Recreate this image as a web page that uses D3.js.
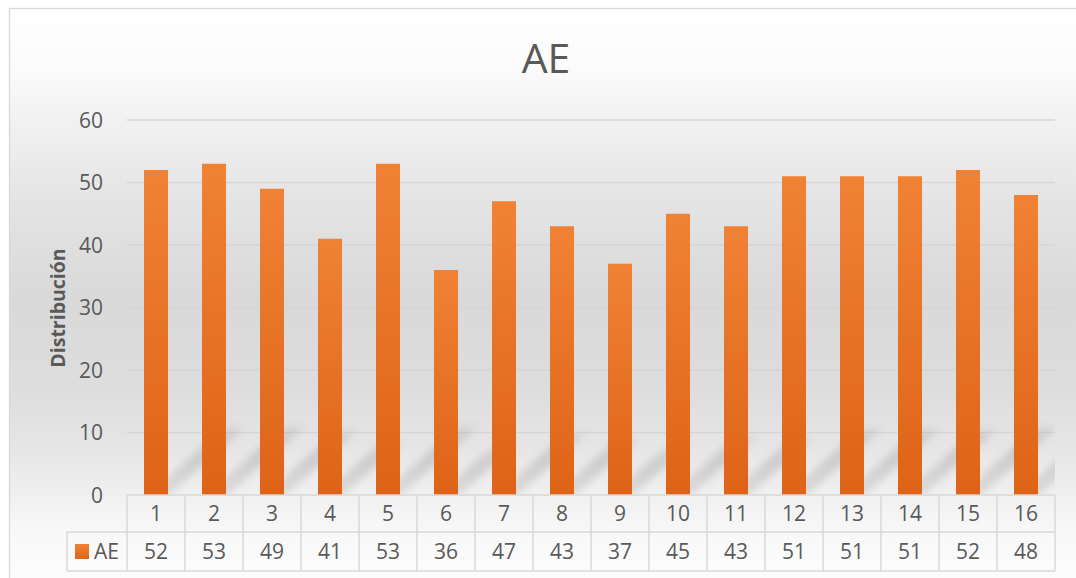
<!DOCTYPE html>
<html>
<head>
<meta charset="utf-8">
<script src="https://cdn.jsdelivr.net/npm/d3@7"></script>
<style>
  html, body { margin: 0; padding: 0; background: #ffffff; }
  svg { display: block; }
  text { font-family: "Open Sans", "Noto Sans", sans-serif; fill: #595959; }
</style>
</head>
<body>
<svg id="chart" width="1076" height="578"></svg>
<script>
// ---- data ----
const chartTitle = "AE";
const yAxisTitle = "Distribución";
const seriesName = "AE";
const categories = ["1","2","3","4","5","6","7","8","9","10","11","12","13","14","15","16"];
const values = [52, 53, 49, 41, 53, 36, 47, 43, 37, 45, 43, 51, 51, 51, 52, 48];
const yTicks = [0, 10, 20, 30, 40, 50, 60];

// ---- layout ----
const plot = { left: 127, right: 1055, top: 120, bottom: 495 };
const chartBox = { x: 9.5, y: 8.5, w: 1074, h: 580 };
const row1 = { top: 495, bottom: 532 };
const row2 = { top: 532, bottom: 571 };
const headerLeft = 67;

const svg = d3.select("#chart");
const defs = svg.append("defs");

// background gradient
const bg = defs.append("linearGradient").attr("id", "bgGrad")
  .attr("x1", 0).attr("y1", 0).attr("x2", 0).attr("y2", 1);
[[0, "#ffffff"], [0.1, "#fbfbfb"], [0.2, "#f1f1f1"], [0.32, "#e5e5e5"], [0.5, "#d9d9d9"],
 [0.65, "#dddddd"], [0.75, "#e5e5e5"], [0.84, "#f0f0f0"], [0.9, "#f8f8f8"], [1, "#fdfdfd"]]
  .forEach(([o, c]) => bg.append("stop").attr("offset", o).attr("stop-color", c));

// bar gradient
const bar = defs.append("linearGradient").attr("id", "barGrad")
  .attr("x1", 0).attr("y1", 0).attr("x2", 0).attr("y2", 1);
bar.append("stop").attr("offset", 0).attr("stop-color", "#f08236");
bar.append("stop").attr("offset", 1).attr("stop-color", "#de6316");

// legend key gradient
const key = defs.append("linearGradient").attr("id", "keyGrad")
  .attr("x1", 0).attr("y1", 0).attr("x2", 0).attr("y2", 1);
key.append("stop").attr("offset", 0).attr("stop-color", "#f08236");
key.append("stop").attr("offset", 1).attr("stop-color", "#df6517");

// shadow gradient (fades toward the tip)
const sg = defs.append("linearGradient").attr("id", "shadowGrad")
  .attr("x1", 0).attr("y1", 1).attr("x2", 0).attr("y2", 0);
sg.append("stop").attr("offset", 0).attr("stop-color", "#000").attr("stop-opacity", 0.08);
sg.append("stop").attr("offset", 0.55).attr("stop-color", "#000").attr("stop-opacity", 0.12);
sg.append("stop").attr("offset", 0.85).attr("stop-color", "#000").attr("stop-opacity", 0.09);
sg.append("stop").attr("offset", 1).attr("stop-color", "#000").attr("stop-opacity", 0);

defs.append("filter").attr("id", "blur").attr("x", "-30%").attr("y", "-30%")
  .attr("width", "160%").attr("height", "160%")
  .append("feGaussianBlur").attr("stdDeviation", 3.5);

defs.append("clipPath").attr("id", "plotClip").append("rect")
  .attr("x", plot.left).attr("y", plot.top - 5)
  .attr("width", plot.right - plot.left).attr("height", plot.bottom - plot.top + 5);

// chart area
svg.append("rect").attr("x", chartBox.x).attr("y", chartBox.y)
  .attr("width", chartBox.w).attr("height", chartBox.h)
  .attr("fill", "url(#bgGrad)").attr("stroke", "#d9d9d9").attr("stroke-width", 1.3);

// scales
const x = d3.scaleBand().domain(categories)
  .range([plot.left, plot.right]).paddingInner(0.586).paddingOuter(0.293);
const y = d3.scaleLinear().domain([0, 60]).range([plot.bottom, plot.top]);
const step = x.step();
const cellLeft = c => x(c) - (step - x.bandwidth()) / 2;

// gridlines
svg.append("g").selectAll("line").data(yTicks.filter(t => t > 0)).join("line")
  .attr("x1", plot.left).attr("x2", plot.right)
  .attr("y1", d => y(d)).attr("y2", d => y(d))
  .attr("stroke", "#d5d5d5").attr("stroke-width", 1.3);

// shadows
const data = categories.map((c, i) => ({ c, v: values[i] }));
svg.append("g").attr("clip-path", "url(#plotClip)")
  .selectAll("path").data(data).join("path")
  .attr("d", d => {
    const x0 = x(d.c), x1 = x0 + x.bandwidth(), b = y(0);
    const sh = (y(0) - y(d.v)) * 0.22;
    const dx = sh * 1.15;
    return `M${x0 + 4},${b} L${x1 + 2},${b} L${x1 + dx},${b - sh} L${x0 + dx + 2},${b - sh} Z`;
  })
  .attr("fill", "url(#shadowGrad)")
  .attr("filter", "url(#blur)");

// bars
svg.append("g").selectAll("rect").data(data).join("rect")
  .attr("x", d => x(d.c)).attr("width", x.bandwidth())
  .attr("y", d => y(d.v)).attr("height", d => y(0) - y(d.v))
  .attr("fill", "url(#barGrad)");

// y axis labels
const yAxis = svg.append("g").attr("transform", `translate(${plot.left},0)`)
  .call(d3.axisLeft(y).tickValues(yTicks).tickSize(0).tickPadding(24));
yAxis.select(".domain").remove();
yAxis.selectAll("text").attr("font-size", 21).attr("fill", "#595959")
  .attr("font-family", "\"Open Sans\", sans-serif").attr("dy", "0.35em");

// y axis title
svg.append("text")
  .attr("transform", `translate(65,${(plot.top + plot.bottom) / 2 + 0.5}) rotate(-90)`)
  .attr("text-anchor", "middle")
  .attr("font-size", 19.5).attr("font-weight", "bold")
  .text(yAxisTitle);

// title
svg.append("text").attr("x", 546).attr("y", 73)
  .attr("text-anchor", "middle").attr("font-size", 41).text(chartTitle);

// data table
const grid = svg.append("g").attr("stroke", "#d9d9d9").attr("stroke-width", 1.5).attr("fill", "none");
grid.append("line").attr("x1", plot.left).attr("x2", plot.right).attr("y1", row1.top).attr("y2", row1.top);
grid.append("line").attr("x1", headerLeft).attr("x2", plot.right).attr("y1", row2.top).attr("y2", row2.top);
grid.append("line").attr("x1", headerLeft).attr("x2", plot.right).attr("y1", row2.bottom).attr("y2", row2.bottom);
grid.append("line").attr("x1", headerLeft).attr("x2", headerLeft).attr("y1", row2.top).attr("y2", row2.bottom);
grid.selectAll(".v").data(categories).join("line").attr("class", "v")
  .attr("x1", d => cellLeft(d)).attr("x2", d => cellLeft(d))
  .attr("y1", row1.top).attr("y2", row2.bottom);
grid.append("line").attr("x1", plot.right).attr("x2", plot.right).attr("y1", row1.top).attr("y2", row2.bottom);

// row 1: categories
svg.append("g").selectAll("text").data(categories).join("text")
  .attr("x", d => x(d) + x.bandwidth() / 2)
  .attr("y", (row1.top + row1.bottom) / 2).attr("dy", "0.35em")
  .attr("text-anchor", "middle").attr("font-size", 21).text(d => d);

// row 2: values
svg.append("g").selectAll("text").data(data).join("text")
  .attr("x", d => x(d.c) + x.bandwidth() / 2)
  .attr("y", (row2.top + row2.bottom) / 2).attr("dy", "0.35em")
  .attr("text-anchor", "middle").attr("font-size", 21).text(d => d.v);

// legend key
svg.append("rect").attr("x", 75).attr("y", 544).attr("width", 14).attr("height", 15)
  .attr("fill", "url(#keyGrad)");
svg.append("text").attr("x", 94).attr("y", (row2.top + row2.bottom) / 2).attr("dy", "0.35em")
  .attr("font-size", 21).text(seriesName);
</script>
</body>
</html>
